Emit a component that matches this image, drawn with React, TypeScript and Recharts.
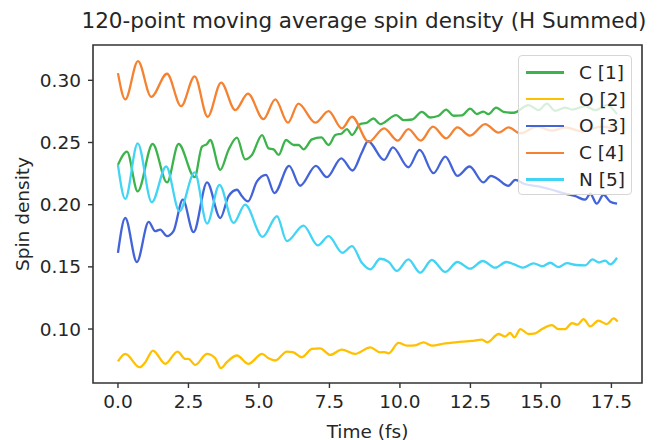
import { LineChart, Line, XAxis, YAxis, Legend, ReferenceArea } from 'recharts'

/* ── Data (time in fs, spin density) ────────────────────────────────── */

const c1Time = [0, 0.32, 0.7, 1.23, 1.74, 2.15, 2.72, 2.98, 3.16, 3.27, 3.63, 3.92, 4.22, 4.51, 4.75, 5.11, 5.34, 5.52, 5.7, 5.96, 6.23, 6.41, 6.58, 6.88, 7.21, 7.47, 7.71, 7.94, 8.12, 8.3, 8.59, 8.83, 9.06, 9.3, 9.87, 10.13, 10.43, 10.78, 11.07, 11.37, 11.64, 11.9, 12.2, 12.49, 12.73, 12.96, 13.14, 13.41, 13.67, 14.03, 14.56, 14.92, 15.21, 15.5, 15.86, 16.1, 16.57, 16.93, 17.34, 17.7]
const c1Spin = [0.232, 0.2427, 0.2107, 0.2488, 0.2179, 0.2488, 0.2221, 0.2467, 0.2488, 0.252, 0.228, 0.244, 0.2539, 0.2365, 0.24, 0.256, 0.2453, 0.2445, 0.24, 0.252, 0.248, 0.248, 0.2445, 0.2525, 0.2541, 0.248, 0.256, 0.2573, 0.2608, 0.256, 0.2648, 0.2659, 0.2693, 0.2648, 0.272, 0.268, 0.2685, 0.2747, 0.2701, 0.2715, 0.2765, 0.2715, 0.2718, 0.2773, 0.2728, 0.2749, 0.2728, 0.2781, 0.2747, 0.2739, 0.28, 0.276, 0.2813, 0.2755, 0.2781, 0.2765, 0.2792, 0.276, 0.28, 0.2728]

const o2Time = [0, 0.26, 0.77, 0.97, 1.24, 1.68, 2.11, 2.39, 2.5, 2.74, 3.16, 3.45, 3.65, 3.86, 4.22, 4.63, 5.11, 5.34, 5.58, 5.99, 6.2, 6.52, 6.88, 7.17, 7.53, 7.94, 8.41, 8.95, 9.3, 9.45, 9.6, 9.95, 10.25, 10.54, 10.84, 11.13, 11.61, 11.96, 12.2, 12.55, 12.91, 13.09, 13.5, 13.73, 13.91, 14.06, 14.27, 14.56, 14.8, 15.04, 15.39, 15.62, 15.86, 16.1, 16.3, 16.51, 16.75, 17.04, 17.34, 17.58, 17.72]
const o2Spin = [0.0739, 0.08, 0.0693, 0.0733, 0.0827, 0.072, 0.0819, 0.076, 0.076, 0.0712, 0.08, 0.0765, 0.0685, 0.0733, 0.0787, 0.072, 0.08, 0.0765, 0.0747, 0.0819, 0.0815, 0.0773, 0.084, 0.0845, 0.0792, 0.0835, 0.08, 0.0853, 0.0813, 0.0815, 0.0805, 0.0888, 0.0867, 0.0869, 0.0893, 0.0867, 0.0885, 0.0893, 0.0898, 0.0904, 0.0915, 0.0893, 0.096, 0.0939, 0.0968, 0.0933, 0.1, 0.096, 0.0965, 0.1, 0.1032, 0.1, 0.1, 0.1048, 0.1035, 0.108, 0.1021, 0.1067, 0.104, 0.1085, 0.1061]

const o3Time = [0, 0.26, 0.67, 1.09, 1.32, 1.5, 1.74, 1.97, 2.3, 2.68, 3.16, 3.63, 3.92, 4.22, 4.4, 4.61, 4.93, 5.25, 5.55, 6.07, 6.46, 7.02, 7.41, 7.92, 8.32, 8.65, 8.87, 9.44, 9.75, 10.3, 10.7, 11.19, 11.61, 12.04, 12.47, 12.96, 13.23, 13.44, 13.85, 14.09, 14.4, 14.92, 15.39, 15.86, 16.2, 16.57, 16.75, 16.98, 17.22, 17.46, 17.7]
const o3Spin = [0.1613, 0.1893, 0.1539, 0.1861, 0.1787, 0.18, 0.1747, 0.1787, 0.204, 0.1779, 0.2179, 0.1893, 0.2067, 0.212, 0.2067, 0.2027, 0.2187, 0.224, 0.2093, 0.2312, 0.2152, 0.2312, 0.2221, 0.2373, 0.2275, 0.242, 0.251, 0.236, 0.2461, 0.2301, 0.244, 0.2253, 0.2387, 0.2232, 0.2307, 0.2179, 0.2232, 0.2211, 0.2152, 0.22, 0.2168, 0.2147, 0.212, 0.2088, 0.207, 0.204, 0.2088, 0.2008, 0.208, 0.2024, 0.2008]

const c4Time = [0, 0.26, 0.71, 1.18, 1.74, 2.24, 2.72, 3.18, 3.66, 4.16, 4.61, 5.16, 5.58, 6.03, 6.4, 7.0, 7.47, 7.94, 8.3, 8.89, 9.44, 9.92, 10.3, 10.74, 11.17, 11.64, 12.04, 12.49, 13.02, 13.5, 13.85, 14.27, 14.86, 15.39, 15.86, 16.45, 17.16, 17.7]
const c4Spin = [0.3058, 0.2846, 0.3155, 0.2867, 0.3053, 0.2792, 0.3032, 0.2707, 0.2981, 0.276, 0.2893, 0.2688, 0.2846, 0.2659, 0.2813, 0.2659, 0.2752, 0.2613, 0.2707, 0.2505, 0.2613, 0.2515, 0.2608, 0.2515, 0.2627, 0.2533, 0.2621, 0.2555, 0.2648, 0.2579, 0.2621, 0.2573, 0.2627, 0.2595, 0.2621, 0.259, 0.2627, 0.2605]

const n5Time = [0, 0.26, 0.7, 1.2, 1.71, 2.18, 2.72, 3.16, 3.6, 4.1, 4.51, 5.13, 5.64, 5.99, 6.58, 7.09, 7.47, 7.96, 8.3, 8.65, 8.95, 9.3, 9.6, 9.89, 10.3, 10.72, 11.13, 11.61, 12.04, 12.49, 12.94, 13.38, 13.77, 14.05, 14.36, 14.74, 15.05, 15.33, 15.62, 15.92, 16.25, 16.57, 16.83, 17.05, 17.28, 17.46, 17.7]
const n5Spin = [0.232, 0.2046, 0.2493, 0.2019, 0.2307, 0.1947, 0.2259, 0.1848, 0.216, 0.1853, 0.2, 0.1741, 0.1907, 0.1707, 0.1832, 0.1672, 0.1747, 0.1613, 0.1667, 0.1533, 0.148, 0.1565, 0.154, 0.1467, 0.156, 0.1453, 0.1555, 0.1459, 0.1539, 0.1485, 0.1547, 0.1493, 0.1539, 0.152, 0.1493, 0.1528, 0.1505, 0.1533, 0.1498, 0.153, 0.1515, 0.1512, 0.156, 0.1535, 0.155, 0.152, 0.1573]

const xTicks = [0, 2.5, 5, 7.5, 10, 12.5, 15, 17.5]
const yTicks = [0.1, 0.15, 0.2, 0.25, 0.3]

// matplotlib-style 5% margins around the data range
const X_DOMAIN: [number, number] = [-0.885, 18.585]
const Y_DOMAIN: [number, number] = [0.0566, 0.3284]

const zip = (ts: number[], vs: number[]) => ts.map((t, i) => ({ t, v: vs[i] }))

const SERIES = [
  { name: 'C [1]', color: '#3cb44b', data: zip(c1Time, c1Spin) },
  { name: 'O [2]', color: '#ffc000', data: zip(o2Time, o2Spin) },
  { name: 'O [3]', color: '#4363d8', data: zip(o3Time, o3Spin) },
  { name: 'C [4]', color: '#f58231', data: zip(c4Time, c4Spin) },
  { name: 'N [5]', color: '#42d4f4', data: zip(n5Time, n5Spin) },
]

const FONT = '"DejaVu Sans", sans-serif'
const INK = '#262626'
const SPINE = '#333'

/* ── Legend box (matplotlib look: translucent white, rounded, grey edge) ── */

function LegendBox() {
  return (
    <div
      style={{
        width: 114,
        height: 140,
        boxSizing: 'border-box',
        padding: '3px 0',
        background: 'rgba(255,255,255,0.8)',
        border: '1px solid #d6d6d6',
        borderRadius: 4,
        fontFamily: FONT,
        fontSize: 18.5,
        color: INK,
      }}
    >
      {SERIES.map((s) => (
        <div key={s.name} style={{ display: 'flex', alignItems: 'center', height: 26.8 }}>
          <span style={{ display: 'inline-block', width: 38, height: 2.5, background: s.color, marginLeft: 7 }} />
          <span style={{ marginLeft: 15, whiteSpace: 'nowrap' }}>{s.name}</span>
        </div>
      ))}
    </div>
  )
}

export default function App() {
  return (
    <div style={{ position: 'absolute', left: 0, top: 0, width: 662, height: 440, background: '#fff' }}>
      {/* title centred over the plot area, allowed to run wider than it */}
      <div
        style={{
          position: 'absolute',
          left: 364,
          top: 8,
          transform: 'translateX(-50%)',
          fontFamily: FONT,
          fontSize: 21.5,
          color: INK,
          whiteSpace: 'nowrap',
        }}
      >
        120-point moving average spin density (H Summed)
      </div>
      <LineChart width={662} height={440} margin={{ top: 45, right: 20, bottom: 0, left: 0 }}>
        <XAxis
          dataKey="t"
          type="number"
          domain={X_DOMAIN}
          ticks={xTicks}
          allowDataOverflow
          height={57}
          tickSize={5}
          tickMargin={7}
          tickFormatter={(v: number) => v.toFixed(1)}
          axisLine={false}
          tickLine={{ stroke: SPINE, strokeWidth: 1.4 }}
          tick={{ fill: INK, fontSize: 18.5, fontFamily: FONT }}
          label={({ viewBox }: any) => (
            <text
              x={viewBox.x + viewBox.width / 2}
              y={viewBox.y + 48}
              textAnchor="middle"
              dominantBaseline="central"
              fill={INK}
              fontSize={18.5}
              fontFamily={FONT}
            >
              Time (fs)
            </text>
          )}
        />
        <YAxis
          type="number"
          domain={Y_DOMAIN}
          ticks={yTicks}
          allowDataOverflow
          width={93}
          tickSize={5}
          tickMargin={7}
          tickFormatter={(v: number) => v.toFixed(2)}
          axisLine={false}
          tickLine={{ stroke: SPINE, strokeWidth: 1.4 }}
          tick={{ fill: INK, fontSize: 18.5, fontFamily: FONT }}
          label={({ viewBox }: any) => {
            const cx = viewBox.x + 22
            const cy = viewBox.y + viewBox.height / 2
            return (
              <text
                x={cx}
                y={cy}
                transform={`rotate(-90 ${cx} ${cy})`}
                textAnchor="middle"
                dominantBaseline="central"
                fill={INK}
                fontSize={18.5}
                fontFamily={FONT}
              >
                Spin density
              </text>
            )
          }}
        />
        {SERIES.map((s) => (
          <Line
            key={s.name}
            data={s.data}
            dataKey="v"
            name={s.name}
            type="monotone"
            stroke={s.color}
            strokeWidth={2.3}
            dot={false}
            activeDot={false}
            isAnimationActive={false}
          />
        ))}
        {/* full frame around the plot area */}
        <ReferenceArea
          x1={X_DOMAIN[0]}
          x2={X_DOMAIN[1]}
          y1={Y_DOMAIN[0]}
          y2={Y_DOMAIN[1]}
          fill="none"
          stroke={SPINE}
          strokeWidth={1.6}
          ifOverflow="visible"
        />
        <Legend
          layout="vertical"
          align="center"
          verticalAlign="middle"
          content={() => <LegendBox />}
          wrapperStyle={{ left: 518, top: 55, width: 114, height: 140 }}
        />
      </LineChart>
    </div>
  )
}
